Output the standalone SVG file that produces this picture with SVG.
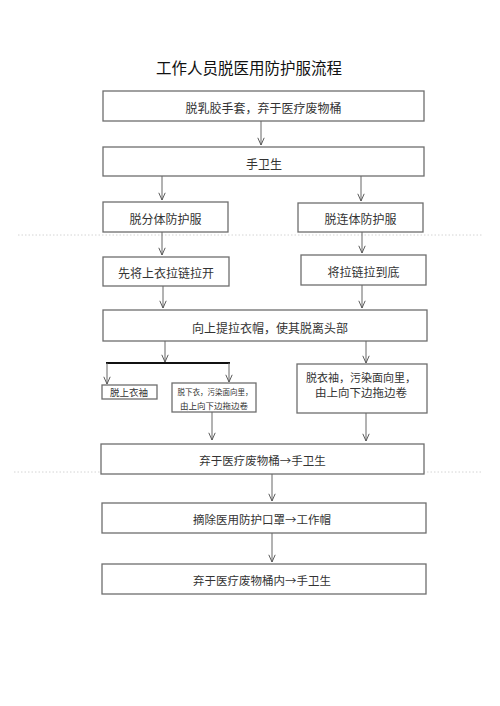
<svg xmlns="http://www.w3.org/2000/svg" width="500" height="706" viewBox="0 0 500 706">
<style>
.box{fill:#fff;stroke:#6e6e6e;stroke-width:1.3}
.t{font-family:"Noto Sans CJK SC","Noto Sans",sans-serif;fill:#333;text-anchor:middle;dominant-baseline:central}
.title{font-family:"Noto Sans CJK SC","Noto Sans",sans-serif;fill:#111;text-anchor:middle;font-size:15.5px}
.ar{stroke:#666;stroke-width:1;fill:none;marker-end:url(#ah)}
.dot{stroke:#d4d4d4;stroke-width:1;stroke-dasharray:1.5 2}
</style>
<defs>
<marker id="ah" viewBox="0 0 10 10" refX="10" refY="5" markerWidth="8" markerHeight="8" markerUnits="userSpaceOnUse" orient="auto">
<path d="M1,1 L10,5 L1,9" fill="none" stroke="#555" stroke-width="1.2"/>
</marker>
</defs>
<rect width="500" height="706" fill="#fff"/>
<line class="dot" x1="18" y1="235" x2="482" y2="235"/>
<line class="dot" x1="14" y1="472" x2="483" y2="472"/>
<text class="title" x="249" y="74">工作人员脱医用防护服流程</text>

<g id="n1"><rect class="box" x="103" y="91" width="321" height="30"/><text class="t" x="263.5" y="107" font-size="12">脱乳胶手套，弃于医疗废物桶</text></g>
<g id="n2"><rect class="box" x="103" y="147" width="321" height="29"/><text class="t" x="264" y="163" font-size="12">手卫生</text></g>
<g id="n3"><rect class="box" x="103" y="202" width="125" height="30"/><text class="t" x="165.5" y="218" font-size="12">脱分体防护服</text></g>
<g id="n4"><rect class="box" x="298" y="203" width="125" height="29"/><text class="t" x="360.5" y="218" font-size="12">脱连体防护服</text></g>
<g id="n5"><rect class="box" x="103" y="257" width="126" height="29"/><text class="t" x="166" y="272" font-size="12">先将上衣拉链拉开</text></g>
<g id="n6"><rect class="box" x="301" y="255" width="125" height="30"/><text class="t" x="363.5" y="271" font-size="12">将拉链拉到底</text></g>
<g id="n7"><rect class="box" x="103" y="310" width="324" height="31"/><text class="t" x="270" y="327" font-size="12">向上提拉衣帽，使其脱离头部</text></g>
<g id="n8"><rect class="box" x="102" y="385" width="55" height="14"/><text class="t" x="129" y="392" font-size="9.5">脱上衣袖</text></g>
<g id="n9"><rect class="box" x="172" y="383" width="84" height="29"/><text class="t" x="215" y="391" font-size="7.5">脱下衣，污染面向里，</text><text class="t" x="214" y="405" font-size="8.5">由上向下边拖边卷</text></g>
<g id="n10"><rect class="box" x="297" y="364" width="130" height="49"/><text class="t" x="361" y="377" font-size="11">脱衣袖，污染面向里，</text><text class="t" x="361" y="392" font-size="11.5">由上向下边拖边卷</text></g>
<g id="n11"><rect class="box" x="101" y="444" width="323" height="30"/><text class="t" x="262.5" y="460" font-size="11.5">弃于医疗废物桶→手卫生</text></g>
<g id="n12"><rect class="box" x="102" y="503" width="324" height="30"/><text class="t" x="262" y="519" font-size="11.5">摘除医用防护口罩→工作帽</text></g>
<g id="n13"><rect class="box" x="102" y="564" width="324" height="30"/><text class="t" x="262" y="580" font-size="11.5">弃于医疗废物桶内→手卫生</text></g>

<g id="connectors">
<line class="ar" x1="261" y1="121" x2="261" y2="145"/>
<line class="ar" x1="162" y1="176" x2="162" y2="200"/>
<line class="ar" x1="361" y1="176" x2="361" y2="201"/>
<line class="ar" x1="162" y1="232" x2="162" y2="255"/>
<line class="ar" x1="362" y1="232" x2="362" y2="253"/>
<line class="ar" x1="163" y1="286" x2="163" y2="308"/>
<line class="ar" x1="362" y1="285" x2="362" y2="308"/>
<line class="ar" x1="165" y1="341" x2="165" y2="362"/>
<line x1="106" y1="363" x2="230" y2="363" stroke="#111" stroke-width="2"/>
<line class="ar" x1="107" y1="363" x2="107" y2="384"/>
<line class="ar" x1="229" y1="363" x2="229" y2="382"/>
<line class="ar" x1="366" y1="341" x2="366" y2="363"/>
<line class="ar" x1="212" y1="412" x2="212" y2="440"/>
<line class="ar" x1="366" y1="413" x2="366" y2="441"/>
<line class="ar" x1="272" y1="474" x2="272" y2="501"/>
<line class="ar" x1="272" y1="533" x2="272" y2="562"/>
</g>
</svg>
